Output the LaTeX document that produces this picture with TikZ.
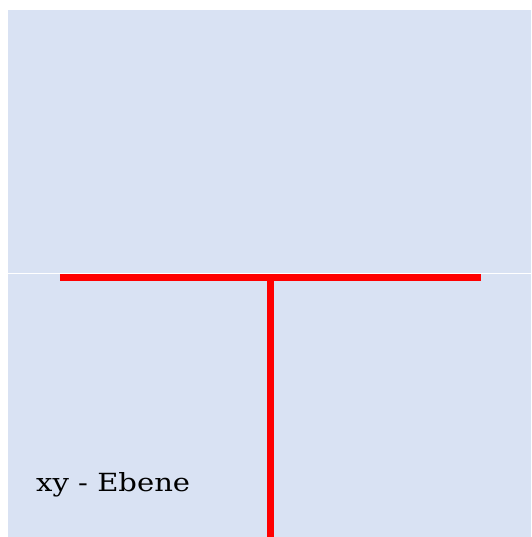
\documentclass[tikz,border=0pt]{standalone}
\usepackage{fontspec}
\usepackage{graphicx}
\newfontfamily\lblfont{DejaVu Serif}
\definecolor{bgblue}{HTML}{D9E2F3}
\tikzset{redline/.style={draw=red, line width=7pt}}
\begin{document}
\begin{tikzpicture}[x=1pt,y=-1pt]
\useasboundingbox (0,0) rectangle (531,537);
\fill[bgblue] (8,10) rectangle (531,537);
\draw[white, line width=1pt] (8,273) -- (531,273);
\coordinate (hl) at (60,277.5);
\coordinate (hr) at (481,277.5);
\coordinate (vt) at (270.5,277.5);
\coordinate (vb) at (270.5,537);
\draw[redline] (hl) -- (hr);
\draw[redline] (vt) -- (vb);
\node[anchor=base west, inner sep=0pt, font=\lblfont\fontsize{25}{30}\selectfont] (lbl) at (36,491) {\resizebox{154pt}{\height}{xy - Ebene}};
\end{tikzpicture}
\end{document}
